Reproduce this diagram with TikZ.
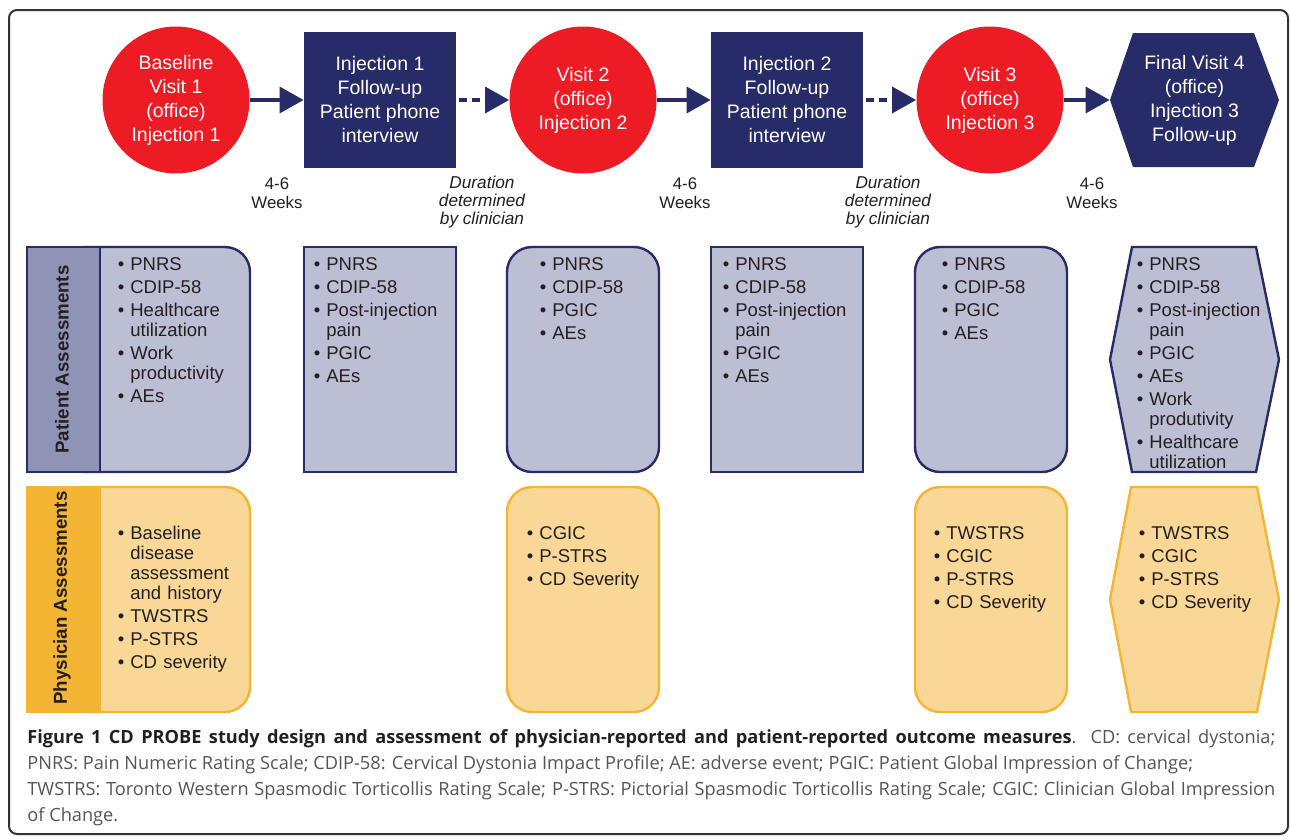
\documentclass[tikz,border=0pt]{standalone}
\usepackage{fontspec}
\setmainfont{Liberation Sans}
\newfontfamily\capfont{Open Sans}
\usetikzlibrary{arrows.meta,calc}
\definecolor{vred}{RGB}{237,28,36}
\definecolor{navy}{RGB}{39,44,105}
\definecolor{pfill}{RGB}{188,191,212}
\definecolor{pbar}{RGB}{143,147,181}
\definecolor{ofill}{RGB}{249,216,151}
\definecolor{obar}{RGB}{244,180,52}
\definecolor{txt}{RGB}{35,31,32}
\definecolor{capgray}{RGB}{85,85,85}
\newcommand\bi[1]{\par\hangindent=6.25pt\hangafter=1\noindent\makebox[6.25pt][l]{\textbullet}#1\par}
\tikzset{
  visit/.style={circle,fill=vred,text=white,minimum size=73.5pt,inner sep=0pt,
    font=\fontsize{9.75}{12}\selectfont,align=center},
  phone/.style={rectangle,fill=navy,text=white,minimum width=76pt,minimum height=68pt,
    inner sep=0pt,font=\fontsize{9.75}{12}\selectfont,align=center},
  arr/.style={draw=navy,line width=1.75pt,-{Triangle[length=12pt,width=13pt]}},
  darr/.style={arr,dash pattern=on 4pt off 2.5pt},
  note/.style={font=\fontsize{8.4}{9.5}\selectfont,text=txt,align=center,inner sep=0pt},
  dnote/.style={font=\itshape\fontsize{8.6}{9}\selectfont,text=txt,align=center,inner sep=0pt},
  listtxt/.style={anchor=north west,inner sep=0pt,text width=72pt,align=left,text=txt,
    font=\fontsize{9.25}{10}\selectfont,execute at begin node={\setlength{\parskip}{1.5pt}}},
  pbox/.style={draw=navy,fill=pfill,line width=1.2pt,inner sep=0pt},
  obox/.style={draw=obar,fill=ofill,line width=1.2pt,inner sep=0pt},
  rowbox/.style={minimum width=76pt,minimum height=112.5pt},
  barlabel/.style={rotate=90,font=\bfseries\fontsize{9.35}{11}\selectfont,text=txt,inner sep=0pt},
}
\begin{document}
\begin{tikzpicture}[x=0.5pt,y=-0.5pt]
\useasboundingbox (0,0) rectangle (1290,836);
\draw[line width=1pt,draw=black!80,rounded corners=4pt] (9,10) rectangle (1288,834);

% ---- top row ----
\node[visit] (c1) at (176,100) {Baseline\\Visit 1\\(office)\\Injection 1};
\node[phone] (b1) at (380,100) {Injection 1\\Follow-up\\Patient phone\\interview};
\node[visit] (c2) at (583,100) {Visit 2\\(office)\\Injection 2};
\node[phone] (b2) at (787,100) {Injection 2\\Follow-up\\Patient phone\\interview};
\node[visit] (c3) at (990,100) {Visit 3\\(office)\\Injection 3};
\fill[navy] (1110,100) -- (1133,33) -- (1254,33) -- (1279,100) -- (1254,167) -- (1133,167) -- cycle;
\node[inner sep=0pt,minimum width=84.5pt,minimum height=67pt,text=white,
  font=\fontsize{9.75}{12}\selectfont,align=center] (h4) at (1194.5,100)
  {Final Visit 4\\(office)\\Injection 3\\Follow-up};

\draw[arr] (c1) -- (b1);
\draw[darr,shorten <=1.5pt] (b1) -- (c2);
\draw[arr] (c2) -- (b2);
\draw[darr,shorten <=1.5pt] (b2) -- (c3);
\draw[arr] (c3) -- (h4);

\node[note] (w1) at (277,193.5) {4-6\\Weeks};
\node[dnote] (d1) at (482,202) {Duration\\determined\\by clinician};
\node[note] (w2) at (685,193.5) {4-6\\Weeks};
\node[dnote] (d2) at (888,202) {Duration\\determined\\by clinician};
\node[note] (w3) at (1092,193.5) {4-6\\Weeks};

% ---- patient row ----
\node[pbox,rounded corners=12.5pt,minimum width=95pt,minimum height=112.5pt] (p1) at (155,359.5) {};
\node[pbox,fill=pbar,minimum width=36.5pt,minimum height=112.5pt] (pb) at (63.5,359.5) {};
\node[barlabel] (pbl) at (62,359.5) {Patient Assessments};
\node[pbox,rowbox] (p2) at (380,359.5) {};
\node[pbox,rowbox,rounded corners=12.5pt] (p3) at (583,359.5) {};
\node[pbox,rowbox] (p4) at (787,359.5) {};
\node[pbox,rowbox,rounded corners=12.5pt] (p5) at (991,359.5) {};
\draw[pbox] (1110,359.5) -- (1132,247) -- (1256,247) -- (1279,359.5) -- (1256,472) -- (1132,472) -- cycle;

\node[listtxt] (lp1) at (117.5,247) {\bi{PNRS}\bi{CDIP-58}\bi{Healthcare\newline utilization}\bi{Work\newline productivity}\bi{AEs}};
\node[listtxt] (lp2) at (313.5,247) {\bi{PNRS}\bi{CDIP-58}\bi{Post-injection\newline pain}\bi{PGIC}\bi{AEs}};
\node[listtxt] (lp3) at (539.5,247) {\bi{PNRS}\bi{CDIP-58}\bi{PGIC}\bi{AEs}};
\node[listtxt] (lp4) at (722.5,247) {\bi{PNRS}\bi{CDIP-58}\bi{Post-injection\newline pain}\bi{PGIC}\bi{AEs}};
\node[listtxt] (lp5) at (941.5,247) {\bi{PNRS}\bi{CDIP-58}\bi{PGIC}\bi{AEs}};
\node[listtxt] (lp6) at (1136.5,247) {\bi{PNRS}\bi{CDIP-58}\bi{Post-injection\newline pain}\bi{PGIC}\bi{AEs}\bi{Work\newline produtivity}\bi{Healthcare\newline utilization}};

% ---- physician row ----
\node[obox,rounded corners=12.5pt,minimum width=95pt,minimum height=112.5pt] (o1) at (155,599.5) {};
\node[obox,fill=obar,minimum width=36.5pt,minimum height=112.5pt] (ob) at (63.5,599.5) {};
\node[barlabel] (obl) at (62,598) {Physician Assessments};
\node[obox,rowbox,rounded corners=12.5pt] (o3) at (583,599.5) {};
\node[obox,rowbox,rounded corners=12.5pt] (o5) at (991,599.5) {};
\draw[obox] (1110,599.5) -- (1131,487) -- (1257,487) -- (1279,599.5) -- (1257,712) -- (1131,712) -- cycle;

\node[listtxt] (lo1) at (117.5,516) {\bi{Baseline\newline disease\newline assessment\newline and history}\bi{TWSTRS}\bi{P-STRS}\bi{CD severity}};
\node[listtxt] (lo3) at (526.5,516) {\bi{CGIC}\bi{P-STRS}\bi{CD Severity}};
\node[listtxt] (lo5) at (933.5,516) {\bi{TWSTRS}\bi{CGIC}\bi{P-STRS}\bi{CD Severity}};
\node[listtxt] (lo6) at (1138.5,516) {\bi{TWSTRS}\bi{CGIC}\bi{P-STRS}\bi{CD Severity}};

% ---- caption ----
\node[anchor=north west,inner sep=0pt,text width=624pt,align=justify,text=capgray,
  font=\capfont\fontsize{9.1}{13}\selectfont] (cap) at (27,729)
  {\textbf{\color{txt}Figure 1 CD PROBE study design and assessment of physician-reported and patient-reported outcome measures}. CD: cervical dystonia;\linebreak
   PNRS: Pain Numeric Rating Scale; CDIP-58: Cervical Dystonia Impact Profile; AE: adverse event; PGIC: Patient Global Impression of Change;\newline
   TWSTRS: Toronto Western Spasmodic Torticollis Rating Scale; P-STRS: Pictorial Spasmodic Torticollis Rating Scale; CGIC: Clinician Global Impression\linebreak
   of Change.};
\end{tikzpicture}
\end{document}
